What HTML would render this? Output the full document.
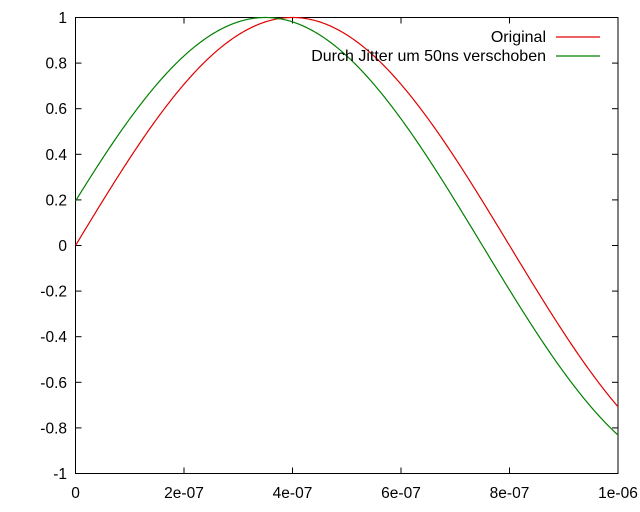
<!DOCTYPE html>
<html><head><meta charset="utf-8"><style>
html,body{margin:0;padding:0;background:#fff}
svg{display:block}
text{font-family:"Liberation Sans",sans-serif;font-size:15.5px;fill:#000}
text.lg{font-size:16px}
</style></head><body>
<svg id="s" width="640" height="512" xmlns="http://www.w3.org/2000/svg">
<g id="ticks" stroke="#000" stroke-width="1"></g>
<g id="labels"></g>
<rect x="75.5" y="17.5" width="542.5" height="456" fill="none" stroke="#000" stroke-width="1"/>
<path id="r" fill="none" stroke="#e00000" stroke-width="1.2"/>
<path id="g" fill="none" stroke="#008000" stroke-width="1.2"/>
<text class="lg" x="546" y="42" text-anchor="end">Original</text>
<line x1="556" y1="37" x2="600" y2="37" stroke="#e00000" stroke-width="1.2"/>
<text class="lg" x="546" y="61" text-anchor="end">Durch Jitter um 50ns verschoben</text>
<line x1="556" y1="56" x2="600" y2="56" stroke="#008000" stroke-width="1.2"/>
</svg>
<script>
var L=75.5,R=618,T=17.5,B=473.5,W=R-L,H=B-T;
var ns="http://www.w3.org/2000/svg";
function X(t){return L+t/1e-6*W}
function Y(v){return T+(1-v)/2*H}
var tk=document.getElementById('ticks'),lb=document.getElementById('labels');
function el(p,n,a,txt){var e=document.createElementNS(ns,n);for(var k in a)e.setAttribute(k,a[k]);if(txt)e.textContent=txt;p.appendChild(e)}
var yl=["-1","-0.8","-0.6","-0.4","-0.2","0","0.2","0.4","0.6","0.8","1"];
for(var i=0;i<=10;i++){var v=-1+i*0.2,y=Y(v);
el(tk,'line',{x1:L,y1:y,x2:L+6,y2:y});el(tk,'line',{x1:R,y1:y,x2:R-6,y2:y});
el(lb,'text',{x:67,y:y+5.5,'text-anchor':'end'},yl[i]);}
var xl=["0","2e-07","4e-07","6e-07","8e-07","1e-06"];
for(var i=0;i<=5;i++){var x=X(i*2e-7);
el(tk,'line',{x1:x,y1:B,x2:x,y2:B-6});el(tk,'line',{x1:x,y1:T,x2:x,y2:T+6});
el(lb,'text',{x:x,y:498,'text-anchor':'middle'},xl[i]);}
function path(sh){var d="";for(var i=0;i<=400;i++){var t=i/400*1e-6;var v=Math.sin(2*Math.PI*625000*(t+sh));d+=(i?"L":"M")+X(t).toFixed(2)+","+Y(v).toFixed(2)}return d}
document.getElementById('r').setAttribute('d',path(0));
document.getElementById('g').setAttribute('d',path(5e-8));
</script>
</body></html>
